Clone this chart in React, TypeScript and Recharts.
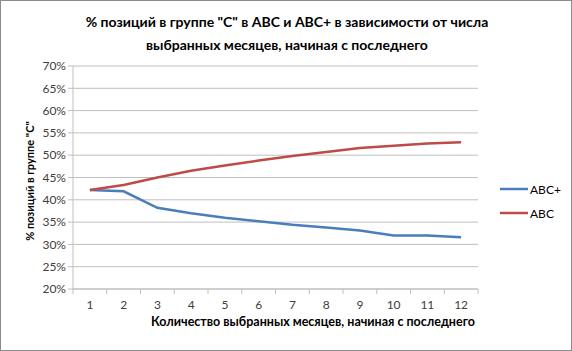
import React from 'react';
import { LineChart, Line, XAxis, YAxis, CartesianGrid, Legend } from 'recharts';

const months = [1, 2, 3, 4, 5, 6, 7, 8, 9, 10, 11, 12];
const abcPlus = [42.2, 41.9, 38.2, 37.0, 36.0, 35.2, 34.4, 33.8, 33.1, 32.0, 32.0, 31.6];
const abc = [42.2, 43.3, 45.0, 46.5, 47.7, 48.8, 49.8, 50.7, 51.6, 52.1, 52.6, 52.9];
const yTicks = [20, 25, 30, 35, 40, 45, 50, 55, 60, 65, 70];

const title = ['% позиций в группе "C" в ABC и ABC+ в зависимости от числа', 'выбранных месяцев, начиная с последнего'];
const xLabel = 'Количество выбранных месяцев, начиная с последнего';
const yLabel = '% позиций в группе "C"';

const data = months.map((m, i) => ({ month: m, abcPlus: abcPlus[i], abc: abc[i] }));

const FONT = 'Lato, "Open Sans", sans-serif';
const GRID = '#BFBFBF';

// Excel-style category axis: label at the point, tick marks between categories
const MonthTick = (props: any) => {
  const { x, y, payload, width, visibleTicksCount, index } = props;
  const half = width / visibleTicksCount / 2;
  return (
    <g>
      <line x1={x - half} y1={y - 8} x2={x - half} y2={y - 3} stroke={GRID} />
      {index === visibleTicksCount - 1 && (
        <line x1={x + half} y1={y - 8} x2={x + half} y2={y - 3} stroke={GRID} />
      )}
      <text x={x} y={y + 12} textAnchor="middle" fill="#404040" fontSize={12} fontFamily={FONT}>
        {payload.value}
      </text>
    </g>
  );
};

const renderLegend = (props: any) => {
  const { payload } = props;
  return (
    <div style={{ fontFamily: FONT, fontSize: 12, color: '#000' }}>
      {payload.map((p: any) => (
        <div key={p.value} style={{ display: 'flex', alignItems: 'center', height: 24 }}>
          <svg width={28} height={6} style={{ marginRight: 2 }}>
            <line x1={0} y1={3} x2={28} y2={3} stroke={p.color} strokeWidth={2.5} />
          </svg>
          <span>{p.value}</span>
        </div>
      ))}
    </div>
  );
};

export default function App() {
  return (
    <div
      style={{
        position: 'absolute', left: 0, top: 0, width: 572, height: 351,
        background: '#fff', border: '1px solid #8c8c8c', boxSizing: 'border-box',
        fontFamily: FONT,
      }}
    >
      <div
        style={{
          position: 'absolute', left: 0, top: 9, width: 572, textAlign: 'center',
          fontWeight: 700, fontSize: 14, lineHeight: '23px', color: '#000',
        }}
      >
        {title.map((t) => <div key={t}>{t}</div>)}
      </div>
      <div
        style={{
          position: 'absolute', left: 72, top: 313, width: 480, textAlign: 'center',
          fontWeight: 700, fontSize: 12.5, lineHeight: '16px', color: '#000',
        }}
      >
        {xLabel}
      </div>
      <div
        style={{
          position: 'absolute', left: 28, top: 180, transform: 'translate(-50%, -50%) rotate(-90deg)',
          whiteSpace: 'nowrap', fontWeight: 700, fontSize: 11, color: '#000',
        }}
      >
        {yLabel}
      </div>
      <LineChart
        width={570}
        height={349}
        data={data}
        margin={{ top: 65, right: 93, left: 0, bottom: 0 }}
        style={{ position: 'absolute', left: 0, top: 0 }}
      >
        <CartesianGrid horizontal vertical={false} stroke={GRID} />
        <XAxis
          dataKey="month"
          type="number"
          domain={[0.5, 12.5]}
          ticks={months}
          tick={<MonthTick />}
          tickLine={false}
          axisLine={{ stroke: GRID }}
          height={61}
          interval={0}
        />
        <YAxis
          type="number"
          domain={[20, 70]}
          ticks={yTicks}
          tickFormatter={(v: number) => `${v}%`}
          tick={{ fill: '#404040', fontSize: 12, fontFamily: FONT }}
          tickLine={{ stroke: GRID }}
          tickSize={5}
          axisLine={{ stroke: GRID }}
          width={72}
          interval={0}
        />
        <Line
          dataKey="abcPlus"
          name="ABC+"
          stroke="#4A7EBB"
          strokeWidth={2.5}
          dot={false}
          isAnimationActive={false}
        />
        <Line
          dataKey="abc"
          name="ABC"
          stroke="#BE4B48"
          strokeWidth={2.5}
          dot={false}
          isAnimationActive={false}
        />
        <Legend
          layout="vertical"
          align="center"
          verticalAlign="middle"
          itemSorter={null as any}
          content={renderLegend}
          wrapperStyle={{ left: 499, top: 176, width: 70 }}
        />
      </LineChart>
    </div>
  );
}
